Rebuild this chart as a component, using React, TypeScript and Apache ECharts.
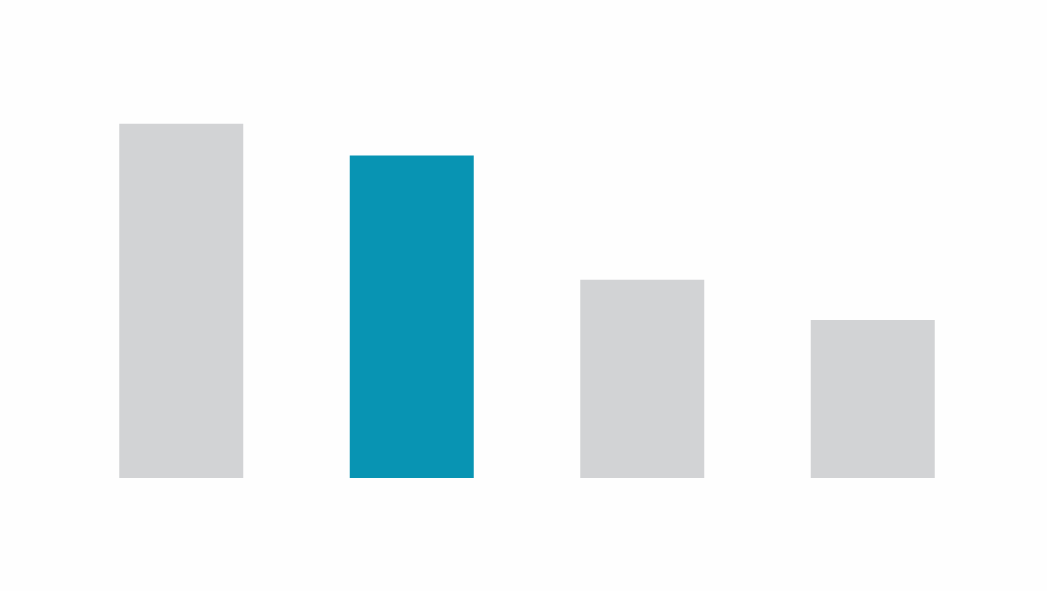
import React, { useEffect, useRef } from "react";
import * as echarts from "echarts";

const categories = ["A", "B", "C", "D"];
const values = [89, 81, 49.8, 39.7];
const highlightIndex = 1;

export default function App() {
  const ref = useRef<HTMLDivElement>(null);
  useEffect(() => {
    document.body.style.margin = "0";
    document.body.style.background = "#fefefe";
    if (!ref.current) return;
    const chart = echarts.init(ref.current, null, { renderer: "svg" });
    chart.setOption({
      animation: false,
      backgroundColor: "#fefefe",
      grid: { left: 66, right: 59, top: 80, bottom: 113 },
      xAxis: {
        type: "category",
        data: categories,
        show: false,
      },
      yAxis: { type: "value", min: 0, max: 100, show: false },
      series: [
        {
          type: "bar",
          barWidth: 124,
          data: values.map((v, i) => ({
            value: v,
            itemStyle: { color: i === highlightIndex ? "#0894b3" : "#d2d3d5" },
          })),
        },
      ],
    });
    return () => chart.dispose();
  }, []);
  return <div ref={ref} style={{ width: 1047, height: 591 }} />;
}
